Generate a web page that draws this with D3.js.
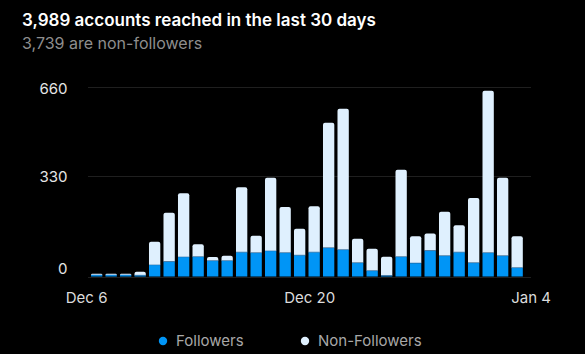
<!DOCTYPE html>
<html>
<head>
<meta charset="utf-8">
<script src="https://cdn.jsdelivr.net/npm/d3@7"></script>
<style>
  html, body { margin: 0; padding: 0; background: #000; }
  svg { display: block; font-family: Inter, "Open Sans", sans-serif; }
</style>
</head>
<body>
<svg id="chart" width="585" height="354"></svg>
<script>
// daily reach, Dec 6 -> Jan 4
const days = d3.range(30).map(i => new Date(2022, 11, 6 + i));
const followers = [5, 5, 5, 4, 38, 49, 64, 65, 52, 52, 80, 78, 84, 78, 70, 80, 94, 88, 45, 19, 3, 65, 44, 85, 68, 80, 45, 78, 68, 29];
const nonFollowers = [4, 4, 4, 12, 76, 160, 209, 41, 12, 16, 213, 56, 240, 150, 87, 151, 434, 492, 79, 72, 62, 288, 88, 56, 145, 88, 213, 569, 256, 103];
const yTicks = [0, 330, 660];
const xTickDays = [0, 14, 29]; // Dec 6, Dec 20, Jan 4
const seriesNames = ["Followers", "Non-Followers"];
const colors = ["#0095f6", "#dff0fe"];

const svg = d3.select("#chart");

svg.append("text")
  .attr("x", 22).attr("y", 26)
  .attr("fill", "#fff")
  .attr("font-size", 17).attr("font-weight", 600)
  .text("3,989 accounts reached in the last 30 days");

svg.append("text")
  .attr("x", 22).attr("y", 49)
  .attr("fill", "#8e8e8e")
  .attr("font-size", 16)
  .text("3,739 are non-followers");

const x = d3.scaleBand()
  .domain(d3.range(days.length))
  .range([87.8, 526])
  .paddingInner(0.22)
  .paddingOuter(0.22);

// the app spaces its gridlines unevenly, so a polylinear scale
const y = d3.scaleLinear()
  .domain([0, 330, 660])
  .range([276.5, 176, 87.3]);

// gridlines
svg.append("g")
  .selectAll("line")
  .data(yTicks)
  .join("line")
  .attr("x1", 88).attr("x2", 531)
  .attr("y1", d => Math.round(y(d)) + 0.5)
  .attr("y2", d => Math.round(y(d)) + 0.5)
  .attr("stroke", "#1f1f1f")
  .attr("stroke-width", 1);

svg.append("g")
  .selectAll("text")
  .data(yTicks)
  .join("text")
  .attr("x", 67.5)
  .attr("y", d => y(d) + (d === 0 ? -8 : 1))
  .attr("dy", "0.35em")
  .attr("text-anchor", "end")
  .attr("fill", "#e6e6e6")
  .attr("font-size", 15)
  .text(d => d);

const fmt = d3.timeFormat("%b %-d");
const labelShift = [-10, 10, 14];
svg.append("g")
  .selectAll("text")
  .data(xTickDays)
  .join("text")
  .attr("x", (d, i) => x(d) + x.bandwidth() / 2 + labelShift[i])
  .attr("y", 298)
  .attr("dy", "0.35em")
  .attr("text-anchor", "middle")
  .attr("fill", "#dcdcdc")
  .attr("font-size", 15)
  .text(d => fmt(days[d]));

// stacked bars
const rows = days.map((d, i) => ({ i, Followers: followers[i], "Non-Followers": nonFollowers[i] }));
const stack = d3.stack().keys(seriesNames)(rows);
const r = 2;

svg.append("g")
  .selectAll("g")
  .data(stack)
  .join("g")
  .attr("fill", (d, k) => colors[k])
  .selectAll("path")
  .data(d => d)
  .join("path")
  .attr("d", function(d) {
    const k = seriesNames.indexOf(this.parentNode.__data__.key);
    const x0 = x(d.data.i), w = x.bandwidth();
    const y0 = y(d[0]), y1 = y(d[1]);
    const h = y0 - y1;
    if (k === 0) return `M${x0},${y0}V${y1}H${x0 + w}V${y0}Z`;
    const rr = Math.min(r, h);
    return `M${x0},${y0}V${y1 + rr}Q${x0},${y1} ${x0 + rr},${y1}H${x0 + w - rr}Q${x0 + w},${y1} ${x0 + w},${y1 + rr}V${y0}Z`;
  });

// thin seam between the two parts
svg.append("g")
  .selectAll("line")
  .data(rows)
  .join("line")
  .attr("x1", d => x(d.i)).attr("x2", d => x(d.i) + x.bandwidth())
  .attr("y1", d => y(d.Followers)).attr("y2", d => y(d.Followers))
  .attr("stroke", "#2a6fa8").attr("stroke-width", 0.6);

// legend
const legendX = [163, 305];
const legend = svg.append("g")
  .selectAll("g")
  .data(seriesNames)
  .join("g")
  .attr("transform", (d, i) => `translate(${legendX[i]},341)`);
legend.append("circle").attr("r", 4.2).attr("fill", (d, i) => colors[i]);
legend.append("text")
  .attr("x", 13).attr("dy", "0.35em")
  .attr("fill", "#a8a8a8")
  .attr("font-size", 15)
  .text(d => d);
</script>
</body>
</html>
